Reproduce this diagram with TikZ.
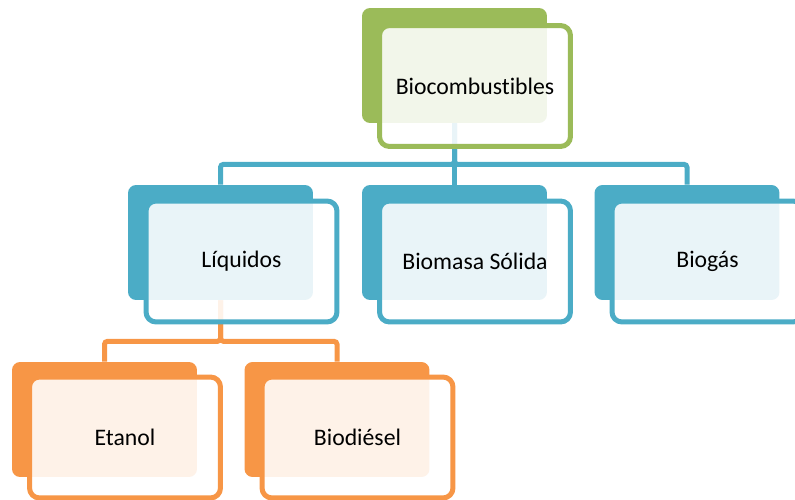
\documentclass[tikz,border=0pt]{standalone}
\usepackage{fontspec}
\setmainfont{Carlito}[Ligatures=NoCommon]
\definecolor{cgreen}{HTML}{9BBB59}
\definecolor{cblue}{HTML}{4BACC6}
\definecolor{corange}{HTML}{F79646}

\begin{document}
\begin{tikzpicture}[x=0.02cm,y=-0.02cm,font=\fontsize{13.5}{16}\selectfont,
 back/.style={fill=#1,rounded corners=0.16cm,minimum width=3.7cm,minimum height=2.3cm,inner sep=0pt},
 front/.style={draw=#1,line width=0.1cm,fill=white,fill opacity=0.88,text opacity=1,rounded corners=0.2cm,minimum width=3.82cm,minimum height=2.42cm,inner sep=0pt},
 link/.style={draw=#1,line width=0.1cm,rounded corners=0.06cm}]
\useasboundingbox (0,0) rectangle (795,500);
% back plates
\node[back=cgreen] (bio-b) at (454.5,65.5) {};
\node[back=cblue] (liq-b) at (220.5,242.5) {};
\node[back=cblue] (bms-b) at (454.5,242.5) {};
\node[back=cblue] (bgs-b) at (687,242.5) {};
\node[back=corange] (eta-b) at (104.5,419.5) {};
\node[back=corange] (bdl-b) at (337,419.5) {};
% connectors
\draw[link=cblue] (bio-b.south) -- ++(0,41) -| (liq-b.north);
\draw[link=cblue] (bio-b.south) -- ++(0,41) -| (bms-b.north);
\draw[link=cblue] (bio-b.south) -- ++(0,41) -| (bgs-b.north);
\draw[link=corange] (liq-b.south) -- ++(0,41) -| (eta-b.north);
\draw[link=corange] (liq-b.south) -- ++(0,41) -| (bdl-b.north);
% front boxes
\node[front=cgreen] (bio) at (475,86) {Biocombustibles};
\node[front=cblue] (liq) at (241.5,261.5) {Líquidos};
\node[front=cblue] (bms) at (475,261.5) {Biomasa Sólida};
\node[front=cblue] (bgs) at (707.5,261.5) {Biogás};
\node[front=corange] (eta) at (125,437.5) {Etanol};
\node[front=corange] (bdl) at (357.5,437.5) {Biodiésel};
\end{tikzpicture}
\end{document}
